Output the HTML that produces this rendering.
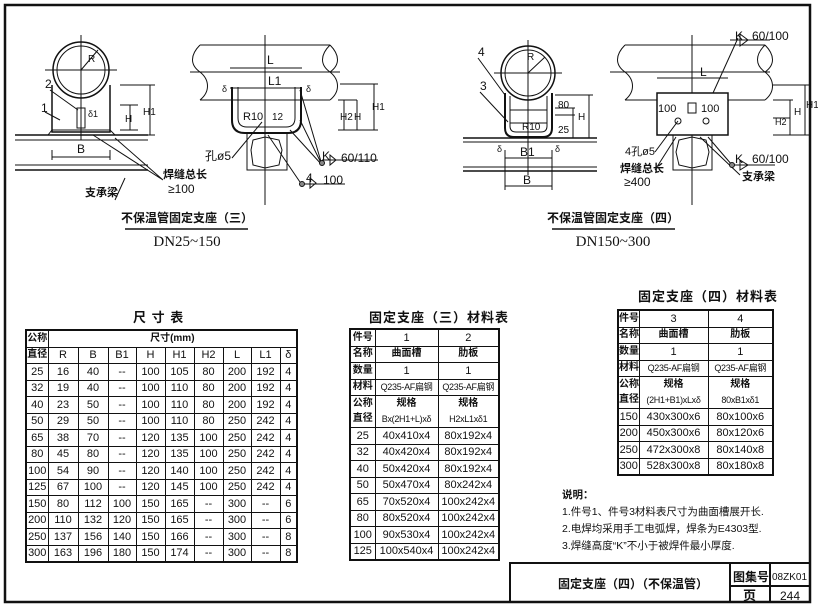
<!DOCTYPE html>
<html><head><meta charset="utf-8"><style>
body{margin:0;width:818px;height:608px;background:#fff;overflow:hidden;position:relative;font-family:"Liberation Sans Narrow","Liberation Sans","Noto Sans CJK SC",sans-serif;color:#111}
table{position:absolute;border-collapse:collapse;border:2px solid #111;table-layout:fixed}
td{border:1px solid #111;padding:0;text-align:center;font-size:11px;line-height:14px;height:15.5px;white-space:nowrap;overflow:hidden}
.b{font-weight:bold;font-size:10px}
.q{font-size:9px;letter-spacing:-0.3px}
.t{position:absolute;font-weight:bold;font-size:13px;letter-spacing:1px;font-family:"Liberation Sans","Noto Sans CJK SC",sans-serif}
.n{position:absolute;font-size:10.5px;font-family:"Liberation Sans","Noto Sans CJK SC",sans-serif;white-space:nowrap}
svg{position:absolute;left:0;top:0}
</style></head><body>
<svg width="818" height="608" font-family="Liberation Sans, Noto Sans CJK SC, sans-serif" fill="none" stroke="#111" stroke-width="1">
<rect x="5" y="5" width="805" height="597" stroke-width="2.5"/>
<circle cx="81" cy="70" r="28" stroke-width="1.5"/><circle cx="81" cy="70" r="24"/>
<line x1="45" y1="70" x2="117" y2="70"/><line x1="81" y1="35" x2="81" y2="140"/>
<line x1="81" y1="70" x2="98" y2="50"/>
<path d="M52 85 V132 H110 V85" stroke-width="1.5"/><path d="M48 135 L52 130 H110 L115 135"/>
<line x1="15" y1="135" x2="148" y2="135" stroke-width="1.5"/><line x1="15" y1="140" x2="148" y2="140"/>
<line x1="15" y1="165" x2="148" y2="165"/><line x1="15" y1="170" x2="148" y2="170" stroke-width="1.5"/>
<line x1="52" y1="157" x2="110" y2="157"/><line x1="52" y1="150" x2="52" y2="160"/><line x1="110" y1="150" x2="110" y2="160"/>
<rect x="77" y="108" width="8" height="20"/>
<path d="M120 85 H155 M120 105 H138 M120 130 H138 M120 135 H155 M130 105 V130 M150 85 V135"/>
<path d="M50 90 L78 110 M45 112 L60 120 M93 135 L163 180 M115 138 L163 180 M125 178 L115 200"/>
<path d="M200 45 H330 M200 100 H330 M190 72 H340 M265 35 V205" />
<path d="M200 45 C190 55 190 65 200 72 C210 80 210 92 200 100 M330 45 C320 55 320 65 330 72 C340 80 340 92 330 100 M330 45 C340 55 340 65 330 72"/>
<path d="M232 87 V120 Q232 133 245 133 H288 Q301 133 301 120 V87" stroke-width="2"/>
<path d="M238 87 V118 Q238 127 247 127 H286 Q295 127 295 118 V87"/>
<rect x="247" y="133" width="40" height="37"/><path d="M253 140 L265 137 L279 140 L282 150 L279 165 L265 168 L253 165 L251 150Z"/>
<path d="M230 68 H302 M230 88 H302 M340 84 H378 M338 100 H357 M338 130 H378 M344 100 V130 M357 100 V130 M374 84 V130"/>
<path d="M300 90 L322 165 M300 120 L322 165 M290 130 L322 165 M268 135 L302 185 M262 122 L232 158 M322 160 H378 M304 184 H345"/>
<circle cx="322" cy="163" r="2.5" fill="#888"/><circle cx="302" cy="184" r="2.5" fill="#888"/>
<path d="M330 155 L336 160 L330 165 Z M310 178 L316 183 L310 188Z"/>
<circle cx="528" cy="73" r="27" stroke-width="1.5"/><circle cx="528" cy="73" r="23"/>
<path d="M494 73 H562 M528 40 V175 M528 73 L545 57"/>
<path d="M505 93 V128 Q505 137 514 137 H543 Q552 137 552 128 V93" stroke-width="2"/>
<path d="M510 96 V126 Q510 132 516 132 H541 Q547 132 547 126 V96 M510 110 H547 M510 123 H547"/>
<line x1="463" y1="138" x2="597" y2="138" stroke-width="1.5"/><line x1="463" y1="142" x2="597" y2="142"/>
<line x1="463" y1="167" x2="597" y2="167"/><line x1="463" y1="171" x2="597" y2="171" stroke-width="1.5"/>
<path d="M505 158 H552 M505 186 H552 M505 150 V190 M552 150 V190 M555 95 H593 M555 108 H575 M555 115 H575 M555 138 H593 M573 108 V138 M589 95 V138"/>
<path d="M478 58 L505 95 M480 92 L508 122"/>
<path d="M625 45 H765 M625 100 H765 M610 72 H770 M692 35 V205"/>
<path d="M625 45 C615 55 615 65 625 72 C635 80 635 92 625 100 M765 45 C755 55 755 65 765 72 C775 80 775 92 765 100 M765 45 C775 55 775 65 765 72"/>
<rect x="657" y="93" width="71" height="42" fill="#fff" stroke-width="1.5"/>
<rect x="673" y="135" width="39" height="35"/><path d="M679 140 L692 137 L706 140 L709 152 L706 165 L692 168 L679 165 L676 152Z"/>
<circle cx="678" cy="121" r="3"/><circle cx="706" cy="121" r="3"/><rect x="688" y="103" width="8" height="10"/>
<path d="M657 78 H728 M773 85 H810 M773 100 H793 M773 118 H790 M773 135 H810 M790 100 V135 M805 85 V135"/>
<path d="M713 93 L738 38 M730 40 H770 M708 137 L732 165 M732 165 H775 M678 121 L655 152 M676 137 L655 170 M700 137 L740 175"/>
<circle cx="732" cy="165" r="2.5" fill="#888"/>
<path d="M740 34 L748 40 L740 46Z M740 160 L748 165 L740 170Z"/>
<line x1="125" y1="229" x2="248" y2="229" stroke-width="1.5"/>
<line x1="552" y1="229" x2="675" y2="229" stroke-width="1.5"/>
<path d="M510 602 V563 H810 M730 563 V602 M770 563 V602 M730 586 H810" stroke-width="2"/>
<g fill="#111" stroke="none" font-size="12">
<text x="45" y="88">2</text><text x="41" y="112">1</text><text x="77" y="153">B</text><text x="88" y="62" font-size="10">R</text>
<text x="88" y="117" font-size="9">δ1</text><text x="125" y="122" font-size="10">H</text><text x="143" y="115" font-size="10">H1</text>
<text x="163" y="178" font-weight="bold" font-size="11">焊缝总长</text><text x="168" y="193">≥100</text>
<text x="85" y="196" font-weight="bold" font-size="11">支承梁</text>
<text x="267" y="64">L</text><text x="268" y="85">L1</text><text x="222" y="92" font-size="9">δ</text><text x="306" y="92" font-size="9">δ</text>
<text x="243" y="120" font-size="11">R10</text><text x="272" y="120" font-size="10">12</text>
<text x="205" y="160" font-size="12">孔ø5</text><text x="322" y="160">K</text><text x="341" y="162">60/110</text>
<text x="306" y="182">4</text><text x="323" y="184">100</text>
<text x="340" y="120" font-size="10">H2</text><text x="354" y="120" font-size="10">H</text><text x="372" y="110" font-size="10">H1</text>
<text x="478" y="56">4</text><text x="480" y="90">3</text><text x="527" y="60" font-size="10">R</text>
<text x="522" y="130" font-size="10">R10</text><text x="558" y="108" font-size="10">80</text><text x="558" y="133" font-size="10">25</text>
<text x="578" y="120" font-size="10">H</text><text x="520" y="156">B1</text><text x="523" y="184">B</text>
<text x="497" y="152" font-size="9">δ</text><text x="555" y="152" font-size="9">δ</text>
<text x="735" y="40">K</text><text x="752" y="40">60/100</text><text x="700" y="76">L</text>
<text x="658" y="112" font-size="11">100</text><text x="701" y="112" font-size="11">100</text>
<text x="625" y="155" font-size="11">4孔ø5</text><text x="620" y="172" font-size="11" font-weight="bold">焊缝总长</text><text x="624" y="186">≥400</text>
<text x="735" y="163">K</text><text x="752" y="163">60/100</text><text x="742" y="180" font-size="11" font-weight="bold">支承梁</text>
<text x="775" y="125" font-size="9">H2</text><text x="794" y="115" font-size="10">H</text><text x="806" y="108" font-size="10">H1</text>
<text x="187" y="222" text-anchor="middle" font-weight="bold" font-size="12">不保温管固定支座（三）</text>
<text x="187" y="246" text-anchor="middle" font-size="15" font-family="Liberation Serif, serif">DN25~150</text>
<text x="613" y="222" text-anchor="middle" font-weight="bold" font-size="12">不保温管固定支座（四）</text>
<text x="613" y="246" text-anchor="middle" font-size="15" font-family="Liberation Serif, serif">DN150~300</text>
<text x="558" y="588" font-weight="bold" font-size="12">固定支座（四）（不保温管）</text>
<text x="733" y="581" font-size="12" font-weight="bold">图集号</text><text x="772" y="580" font-size="10">08ZK01</text>
<text x="743" y="600" font-size="13" font-weight="bold">页</text><text x="780" y="600" font-size="12">244</text>
</g>
</svg>
<div class="t" style="left:133px;top:307px">尺 寸 表</div>
<div class="t" style="left:369px;top:307px">固定支座（三）材料表</div>
<div class="t" style="left:638px;top:286px">固定支座（四）材料表</div>
<table style="left:25px;top:329px;width:271px">
<colgroup><col style="width:22px"><col style="width:30px"><col style="width:30px"><col style="width:28px"><col style="width:29px"><col style="width:29px"><col style="width:29px"><col style="width:28px"><col style="width:29px"><col style="width:17px"></colgroup>
<tr><td class="b">公称</td><td colspan="9" class="b">尺寸(mm)</td></tr>
<tr><td class="b">直径</td><td>R</td><td>B</td><td>B1</td><td>H</td><td>H1</td><td>H2</td><td>L</td><td>L1</td><td>δ</td></tr>
<tr><td>25</td><td>16</td><td>40</td><td>--</td><td>100</td><td>105</td><td>80</td><td>200</td><td>192</td><td>4</td></tr>
<tr><td>32</td><td>19</td><td>40</td><td>--</td><td>100</td><td>110</td><td>80</td><td>200</td><td>192</td><td>4</td></tr>
<tr><td>40</td><td>23</td><td>50</td><td>--</td><td>100</td><td>110</td><td>80</td><td>200</td><td>192</td><td>4</td></tr>
<tr><td>50</td><td>29</td><td>50</td><td>--</td><td>100</td><td>110</td><td>80</td><td>250</td><td>242</td><td>4</td></tr>
<tr><td>65</td><td>38</td><td>70</td><td>--</td><td>120</td><td>135</td><td>100</td><td>250</td><td>242</td><td>4</td></tr>
<tr><td>80</td><td>45</td><td>80</td><td>--</td><td>120</td><td>135</td><td>100</td><td>250</td><td>242</td><td>4</td></tr>
<tr><td>100</td><td>54</td><td>90</td><td>--</td><td>120</td><td>140</td><td>100</td><td>250</td><td>242</td><td>4</td></tr>
<tr><td>125</td><td>67</td><td>100</td><td>--</td><td>120</td><td>145</td><td>100</td><td>250</td><td>242</td><td>4</td></tr>
<tr><td>150</td><td>80</td><td>112</td><td>100</td><td>150</td><td>165</td><td>--</td><td>300</td><td>--</td><td>6</td></tr>
<tr><td>200</td><td>110</td><td>132</td><td>120</td><td>150</td><td>165</td><td>--</td><td>300</td><td>--</td><td>6</td></tr>
<tr><td>250</td><td>137</td><td>156</td><td>140</td><td>150</td><td>166</td><td>--</td><td>300</td><td>--</td><td>8</td></tr>
<tr><td>300</td><td>163</td><td>196</td><td>180</td><td>150</td><td>174</td><td>--</td><td>300</td><td>--</td><td>8</td></tr>
</table>
<table style="left:349px;top:328px;width:149px">
<colgroup><col style="width:25px"><col style="width:63px"><col style="width:61px"></colgroup>
<tr><td class="b">件号</td><td>1</td><td>2</td></tr>
<tr><td class="b">名称</td><td class="b">曲面槽</td><td class="b">肋板</td></tr>
<tr><td class="b">数量</td><td>1</td><td>1</td></tr>
<tr><td class="b">材料</td><td class="q">Q235-AF扁钢</td><td class="q">Q235-AF扁钢</td></tr>
<tr><td class="b" style="border-bottom:0">公称</td><td class="b" style="border-bottom:0">规格</td><td class="b" style="border-bottom:0">规格</td></tr>
<tr><td class="b" style="border-top:0">直径</td><td class="q" style="border-top:0">Bx(2H1+L)xδ</td><td class="q" style="border-top:0">H2xL1xδ1</td></tr>
<tr><td>25</td><td>40x410x4</td><td>80x192x4</td></tr>
<tr><td>32</td><td>40x420x4</td><td>80x192x4</td></tr>
<tr><td>40</td><td>50x420x4</td><td>80x192x4</td></tr>
<tr><td>50</td><td>50x470x4</td><td>80x242x4</td></tr>
<tr><td>65</td><td>70x520x4</td><td>100x242x4</td></tr>
<tr><td>80</td><td>80x520x4</td><td>100x242x4</td></tr>
<tr><td>100</td><td>90x530x4</td><td>100x242x4</td></tr>
<tr><td>125</td><td>100x540x4</td><td>100x242x4</td></tr>
</table>
<table style="left:617px;top:309px;width:155px">
<colgroup><col style="width:21px"><col style="width:69px"><col style="width:65px"></colgroup>
<tr><td class="b">件号</td><td>3</td><td>4</td></tr>
<tr><td class="b">名称</td><td class="b">曲面槽</td><td class="b">肋板</td></tr>
<tr><td class="b">数量</td><td>1</td><td>1</td></tr>
<tr><td class="b">材料</td><td class="q">Q235-AF扁钢</td><td class="q">Q235-AF扁钢</td></tr>
<tr><td class="b" style="border-bottom:0">公称</td><td class="b" style="border-bottom:0">规格</td><td class="b" style="border-bottom:0">规格</td></tr>
<tr><td class="b" style="border-top:0">直径</td><td class="q" style="border-top:0">(2H1+B1)xLxδ</td><td class="q" style="border-top:0">80xB1xδ1</td></tr>
<tr><td>150</td><td>430x300x6</td><td>80x100x6</td></tr>
<tr><td>200</td><td>450x300x6</td><td>80x120x6</td></tr>
<tr><td>250</td><td>472x300x8</td><td>80x140x8</td></tr>
<tr><td>300</td><td>528x300x8</td><td>80x180x8</td></tr>
</table>
<div class="n" style="left:562px;top:487px;font-weight:bold">说明：</div>
<div class="n" style="left:562px;top:504px">1.件号1、件号3材料表尺寸为曲面槽展开长.</div>
<div class="n" style="left:562px;top:521px">2.电焊均采用手工电弧焊，焊条为E4303型.</div>
<div class="n" style="left:562px;top:538px">3.焊缝高度“K”不小于被焊件最小厚度.</div>
</body></html>
